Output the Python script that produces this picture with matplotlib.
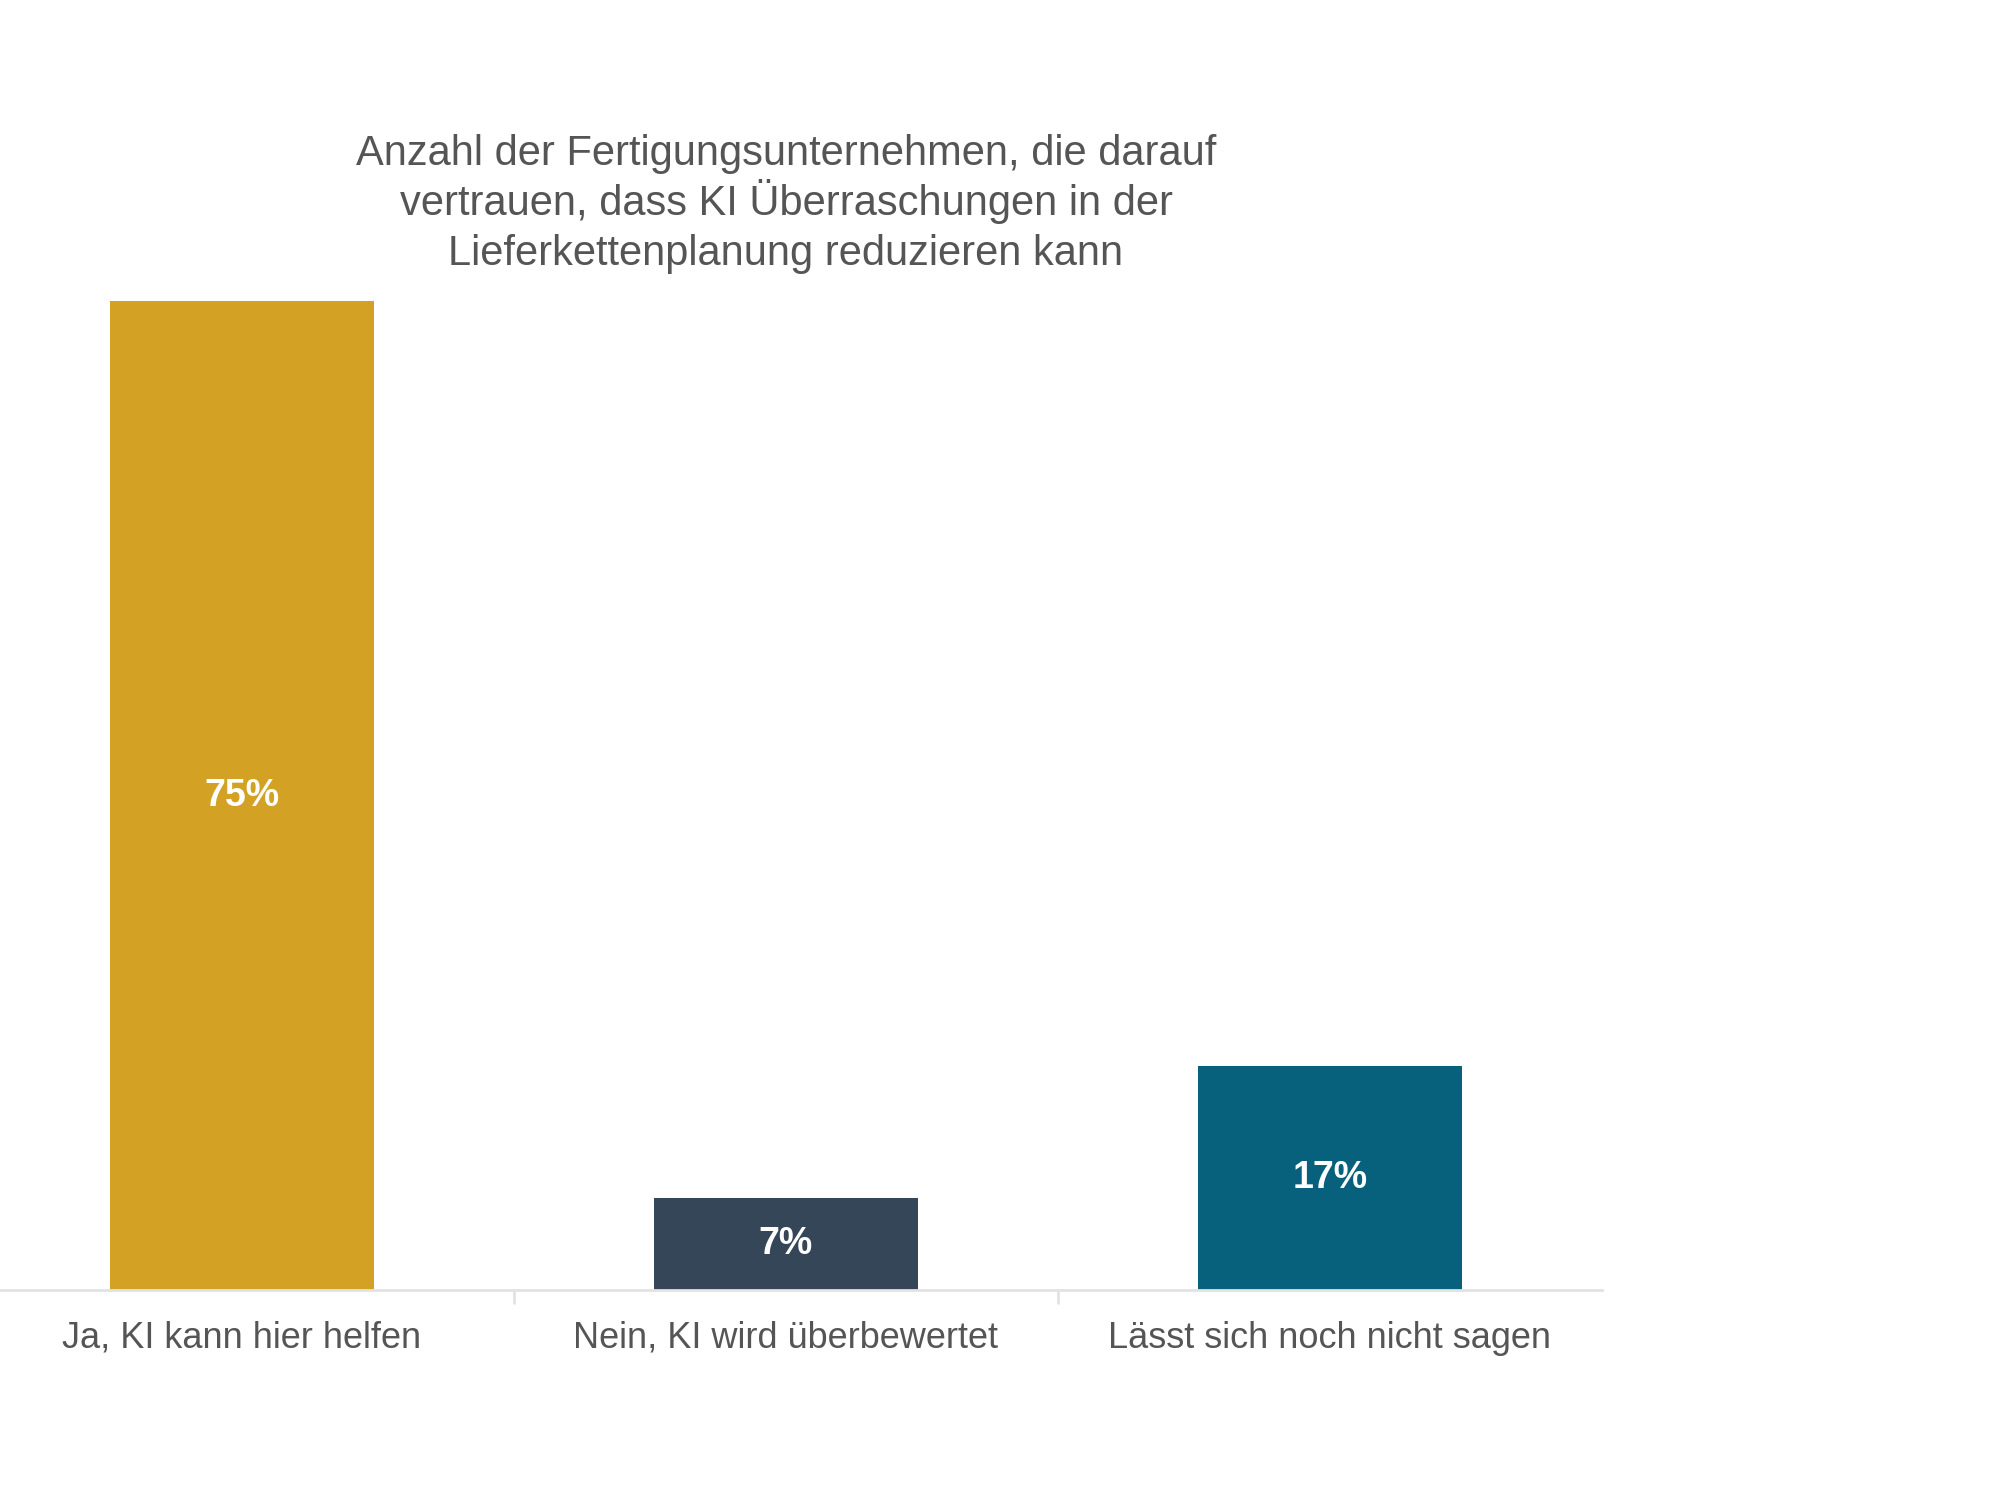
import matplotlib
matplotlib.use("Agg")
import matplotlib.pyplot as plt

categories = ["Ja, KI kann hier helfen", "Nein, KI wird überbewertet", "Lässt sich noch nicht sagen"]
values = [75, 7, 17]
labels = ["75%", "7%", "17%"]
colors = ["#D3A224", "#344657", "#07617D"]
title_lines = ["Anzahl der Fertigungsunternehmen, die darauf",
               "vertrauen, dass KI Überraschungen in der",
               "Lieferkettenplanung reduzieren kann"]

plt.rcParams['font.family'] = ['Liberation Sans', 'DejaVu Sans']

fig = plt.figure(figsize=(20, 15), dpi=100)
ax = fig.add_axes([-30/2000, 1 - 1290/1500, 1632/2000, 989/1500])

x = list(range(len(categories)))
ax.bar(x, values, width=0.487, color=colors, zorder=2)
for xi, v, lab in zip(x, values, labels):
    ax.text(xi, v / 2, lab, ha="center", va="center", color="white",
            fontsize=27, fontweight="bold", zorder=3)

ax.set_xlim(-0.5, 2.5)
ax.set_ylim(0, 75)
for s in ["top", "right", "left"]:
    ax.spines[s].set_visible(False)
ax.spines["bottom"].set_color("#E2E2E2")
ax.spines["bottom"].set_linewidth(2)
ax.set_yticks([])
ax.set_xticks(x)
ax.set_xticklabels(categories, fontsize=26, color="#555555")
ax.tick_params(axis="x", length=0, pad=22)
ax.set_xticks([0.5, 1.5], minor=True)
ax.tick_params(axis="x", which="minor", length=10, color="#E2E2E2", width=2)

for i, line in enumerate(title_lines):
    fig.text(786/2000, 1 - (165 + 50 * i)/1500, line, ha="center", va="baseline",
             fontsize=30, color="#555555")

fig.savefig("out.png", dpi=100, facecolor="white")
